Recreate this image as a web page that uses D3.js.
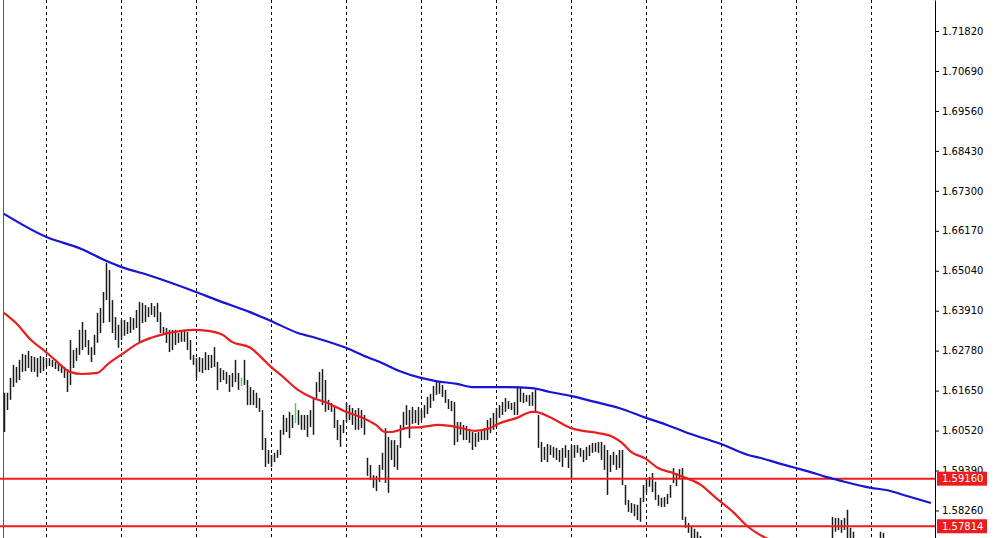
<!DOCTYPE html>
<html><head><meta charset="utf-8">
<script src="https://cdn.jsdelivr.net/npm/d3@7"></script>
<style>body{margin:0;background:#fff}svg{display:block}</style>
</head><body>
<svg id="c" width="1001" height="538"></svg>
<script>
// ---- data ----
const highs = [
1.6159,1.6159,1.6201,1.6238,1.6232,1.6252,1.6269,1.6266,1.6277,1.6263,
1.6260,1.6257,1.6263,1.6260,1.6257,1.6257,1.6252,1.6246,1.6243,1.6238,
1.6232,1.6226,1.6308,1.6280,1.6286,1.6337,1.6359,1.6337,1.6308,1.6288,
1.6323,1.6385,1.6399,1.6444,1.6526,1.6506,1.6421,1.6373,1.6351,1.6365,
1.6365,1.6359,1.6373,1.6370,1.6393,1.6416,1.6413,1.6407,1.6401,1.6413,
1.6404,1.6413,1.6387,1.6345,1.6342,1.6337,1.6337,1.6337,1.6328,1.6331,
1.6337,1.6331,1.6308,1.6266,1.6257,1.6260,1.6257,1.6274,1.6266,1.6266,
1.6288,1.6246,1.6229,1.6223,1.6218,1.6209,1.6215,1.6252,1.6215,1.6201,
1.6252,1.6195,1.6175,1.6167,1.6159,1.6144,1.6110,1.6031,1.5997,1.5983,
1.5989,1.5997,1.6054,1.6096,1.6088,1.6105,1.6096,1.6130,1.6110,1.6096,
1.6096,1.6096,1.6110,1.6144,1.6189,1.6218,1.6226,1.6195,1.6139,1.6130,
1.6119,1.6082,1.6068,1.6082,1.6130,1.6124,1.6116,1.6110,1.6116,1.6110,
1.6096,1.5975,1.5955,1.5926,1.5924,1.5955,1.5989,1.6059,1.6034,1.6025,
1.6025,1.6011,1.6068,1.6105,1.6124,1.6110,1.6119,1.6110,1.6119,1.6110,
1.6124,1.6147,1.6156,1.6178,1.6189,1.6189,1.6181,1.6167,1.6141,1.6136,
1.6133,1.6076,1.6076,1.6068,1.6065,1.6054,1.6048,1.6045,1.6048,1.6051,
1.6059,1.6082,1.6088,1.6102,1.6116,1.6124,1.6133,1.6144,1.6136,1.6130,
1.6133,1.6178,1.6175,1.6159,1.6153,1.6153,1.6161,1.6167,1.6096,1.6020,
1.6006,1.6014,1.6011,1.6006,1.6003,1.5997,1.6003,1.6011,1.5997,1.6011,
1.6011,1.6011,1.6003,1.5997,1.6006,1.6011,1.6017,1.6017,1.6020,1.6020,
1.6011,1.5997,1.5983,1.5992,1.5983,1.5997,1.5997,1.5898,1.5856,1.5847,
1.5844,1.5842,1.5862,1.5898,1.5918,1.5921,1.5932,1.5907,1.5870,1.5862,
1.5864,1.5873,1.5898,1.5946,1.5932,1.5943,1.5946,1.5808,1.5791,1.5780,
1.5774,1.5766,1.5754,1.5743,1.5728,1.5720,1.5709,1.5697,1.5686,1.5672,
1.5663,1.5650,1.5640,1.5635,1.5628,1.5620,1.5630,1.5615,1.5605,1.5598,
1.5610,1.5620,1.5605,1.5595,1.5590,1.5600,1.5612,1.5625,1.5618,1.5630,
1.5645,1.5640,1.5652,1.5660,1.5655,1.5668,1.5680,1.5675,1.5690,1.5700,
1.5695,1.5710,1.5720,1.5715,1.5730,1.5738,1.5808,1.5805,1.5805,1.5799,
1.5805,1.5828,1.5777,1.5766,1.5740,1.5730,1.5725,1.5735,1.5728,1.5718,
1.5730,1.5742,1.5766,1.5763,1.5738,1.5730,1.5720,1.5712,1.5705,1.5715,
1.5722,1.5710,1.5700,1.5695,1.5705,1.5712,1.5700,1.5690,1.5698,1.5705];

const lows = [
1.6048,1.6110,1.6139,1.6175,1.6187,1.6195,1.6218,1.6220,1.6229,1.6218,
1.6218,1.6204,1.6215,1.6220,1.6232,1.6235,1.6232,1.6226,1.6220,1.6215,
1.6201,1.6161,1.6181,1.6229,1.6249,1.6266,1.6280,1.6288,1.6266,1.6246,
1.6266,1.6300,1.6328,1.6356,1.6421,1.6359,1.6328,1.6308,1.6286,1.6308,
1.6320,1.6325,1.6328,1.6337,1.6342,1.6300,1.6356,1.6359,1.6373,1.6379,
1.6373,1.6359,1.6328,1.6323,1.6300,1.6274,1.6280,1.6294,1.6300,1.6303,
1.6303,1.6280,1.6252,1.6238,1.6201,1.6218,1.6215,1.6223,1.6223,1.6229,
1.6232,1.6167,1.6189,1.6195,1.6184,1.6161,1.6175,1.6189,1.6167,1.6178,
1.6181,1.6124,1.6124,1.6124,1.6116,1.6105,1.5997,1.5949,1.5958,1.5949,
1.5963,1.5975,1.5983,1.6040,1.6048,1.6031,1.6059,1.6073,1.6068,1.6054,
1.6054,1.6034,1.6062,1.6040,1.6144,1.6161,1.6124,1.6105,1.6110,1.6105,
1.6059,1.6025,1.6006,1.6045,1.6076,1.6082,1.6068,1.6054,1.6054,1.6059,
1.6040,1.5924,1.5912,1.5890,1.5881,1.5907,1.5941,1.5904,1.5876,1.5969,
1.5949,1.5941,1.6003,1.6054,1.6068,1.6031,1.6071,1.6073,1.6068,1.6082,
1.6088,1.6099,1.6116,1.6136,1.6153,1.6156,1.6147,1.6130,1.6113,1.6107,
1.6011,1.6020,1.6040,1.6025,1.6025,1.6017,1.5997,1.6006,1.6020,1.6025,
1.6025,1.6025,1.6045,1.6054,1.6062,1.6088,1.6096,1.6105,1.6113,1.6110,
1.6096,1.6096,1.6133,1.6130,1.6133,1.6122,1.6122,1.6105,1.6003,1.5963,
1.5969,1.5963,1.5983,1.5975,1.5969,1.5963,1.5949,1.5975,1.5946,1.5918,
1.5975,1.5989,1.5978,1.5963,1.5969,1.5980,1.5989,1.5992,1.5989,1.5969,
1.5941,1.5870,1.5935,1.5955,1.5941,1.5946,1.5898,1.5842,1.5822,1.5819,
1.5810,1.5799,1.5794,1.5850,1.5878,1.5893,1.5878,1.5856,1.5839,1.5836,
1.5836,1.5844,1.5862,1.5904,1.5895,1.5918,1.5799,1.5777,1.5763,1.5743,
1.5737,1.5729,1.5714,1.5700,1.5686,1.5672,1.5668,1.5655,1.5644,1.5630,
1.5622,1.5610,1.5598,1.5594,1.5585,1.5578,1.5588,1.5572,1.5563,1.5556,
1.5566,1.5578,1.5562,1.5553,1.5548,1.5558,1.5570,1.5582,1.5576,1.5588,
1.5602,1.5598,1.5610,1.5618,1.5614,1.5626,1.5638,1.5633,1.5648,1.5658,
1.5654,1.5668,1.5678,1.5673,1.5688,1.5696,1.5720,1.5766,1.5771,1.5763,
1.5771,1.5729,1.5729,1.5720,1.5700,1.5690,1.5686,1.5694,1.5688,1.5678,
1.5690,1.5702,1.5714,1.5714,1.5698,1.5690,1.5680,1.5672,1.5664,1.5674,
1.5682,1.5670,1.5660,1.5655,1.5664,1.5672,1.5660,1.5650,1.5658,1.5665];

const greenBars = [79, 97];

// slow moving average (blue), sampled at bar indices
const blueIdx  = [0,14,26,34,39,48,64,71,82,89,98,104,114,121,126,132,139,144,151,156,165,176,182,189,197,205,214,221,227,239,248,252,258,264,271,274,278,289,294,301,309];
const blueVals = [1.6665,1.6600,1.6565,1.6532,1.6515,1.6492,1.6444,1.6421,1.6387,1.6362,1.6328,1.6314,1.6286,1.6260,1.6243,1.6220,1.6201,1.6192,1.6184,1.6175,1.6175,1.6172,1.6161,1.6150,1.6133,1.6116,1.6088,1.6068,1.6048,1.6014,1.5983,1.5975,1.5960,1.5946,1.5929,1.5921,1.5912,1.5890,1.5884,1.5867,1.5847];

// fast moving average (red), sampled at bar indices
const redIdx  = [0,4,9,14,17,22,26,31,35,39,45,52,57,63,68,73,76,82,86,89,93,98,103,107,114,119,124,127,129,134,139,145,151,157,162,165,171,176,177,182,189,193,198,203,206,209,214,218,223,227,232,237,243,248,252,254,262,272,285,298,309];
const redVals = [1.6385,1.6356,1.6308,1.6274,1.6252,1.6218,1.6212,1.6215,1.6243,1.6266,1.6300,1.6322,1.6331,1.6337,1.6334,1.6322,1.6303,1.6287,1.6257,1.6232,1.6204,1.6167,1.6144,1.6133,1.6105,1.6090,1.6068,1.6048,1.6048,1.6059,1.6062,1.6068,1.6062,1.6051,1.6059,1.6072,1.6088,1.6105,1.6105,1.6090,1.6059,1.6051,1.6045,1.6034,1.6017,1.5992,1.5972,1.5946,1.5932,1.5919,1.5900,1.5864,1.5822,1.5780,1.5757,1.5748,1.5720,1.5700,1.5690,1.5688,1.5690];

const levels = [1.59160, 1.57814];
const yTicks = [1.58260,1.59390,1.60520,1.61650,1.62780,1.63910,1.65040,1.66170,1.67300,1.68430,1.69560,1.70690,1.71820];
const gridBars = [14,39,64,89,114,139,164,189,214,239,264,289];

// ---- drawing ----
const W = 1001, H = 538, axisX = 935;
const svg = d3.select("#c");
const x = d3.scaleLinear().domain([0, highs.length - 1]).range([4, 4 + 3 * (highs.length - 1)]);
const y = d3.scaleLinear().domain([1.57482, 1.72697]).range([H, 0]);
const fmt = d3.format(".5f");
const RED = "#ec1c1c", BLUE = "#1515d6";

svg.append("rect").attr("width", W).attr("height", H).attr("fill", "#fff");
svg.append("defs").append("clipPath").attr("id", "plot")
  .append("rect").attr("x", 0).attr("y", 0).attr("width", axisX).attr("height", H);
const plot = svg.append("g").attr("clip-path", "url(#plot)");

// left frame
plot.append("line").attr("x1", 3.5).attr("x2", 3.5).attr("y1", 0).attr("y2", H)
  .attr("stroke", "#555").attr("stroke-width", 1);

// vertical dashed grid
plot.selectAll("line.grid").data(gridBars).join("line").attr("class", "grid")
  .attr("x1", d => Math.round(x(d)) + 0.5).attr("x2", d => Math.round(x(d)) + 0.5)
  .attr("y1", 0).attr("y2", H)
  .attr("stroke", "#000").attr("stroke-width", 1).attr("stroke-dasharray", "3,3")
  .attr("shape-rendering", "crispEdges");

// bars
plot.selectAll("line.bar").data(highs).join("line").attr("class", "bar")
  .attr("x1", (d, i) => Math.round(x(i)) + 0.5).attr("x2", (d, i) => Math.round(x(i)) + 0.5)
  .attr("y1", d => y(d)).attr("y2", (d, i) => y(lows[i]))
  .attr("stroke", (d, i) => greenBars.includes(i) ? "#5ccc5c" : "#1a1a1a")
  .attr("stroke-width", 1.5);

// horizontal levels
plot.selectAll("line.level").data(levels).join("line").attr("class", "level")
  .attr("x1", 0).attr("x2", axisX).attr("y1", d => y(d)).attr("y2", d => y(d))
  .attr("stroke", RED).attr("stroke-width", 2);

// moving averages
const line = d3.line().x(d => x(d[0])).y(d => y(d[1])).curve(d3.curveMonotoneX);
plot.append("path").datum(blueIdx.map((d, i) => [d, blueVals[i]]))
  .attr("d", line).attr("fill", "none").attr("stroke", BLUE).attr("stroke-width", 2.2);
plot.append("path").datum(redIdx.map((d, i) => [d, redVals[i]]))
  .attr("d", line).attr("fill", "none").attr("stroke", RED).attr("stroke-width", 2.2);

// price axis
const axis = d3.axisRight(y).tickValues(yTicks).tickFormat(fmt)
  .tickSize(4).tickPadding(3).tickSizeOuter(0);
const ga = svg.append("g").attr("transform", `translate(${axisX},0)`).call(axis);
ga.select(".domain").attr("stroke", "#000");
ga.selectAll(".tick line").attr("stroke", "#000");
ga.selectAll("text").attr("font-family", "DejaVu Sans, sans-serif").attr("font-size", 10).attr("fill", "#000");

// level labels (drawn over the axis, as in the reference)
const lab = svg.selectAll("g.lab").data(levels).join("g").attr("class", "lab")
  .attr("transform", d => `translate(${axisX + 2},${y(d)})`);
lab.append("rect").attr("x", 0).attr("y", -7).attr("width", 50).attr("height", 14).attr("fill", RED);
lab.append("text").attr("x", 5).attr("dy", "0.36em").text(d => fmt(d))
  .attr("font-family", "DejaVu Sans, sans-serif").attr("font-size", 10).attr("fill", "#fff");
</script>
</body></html>
